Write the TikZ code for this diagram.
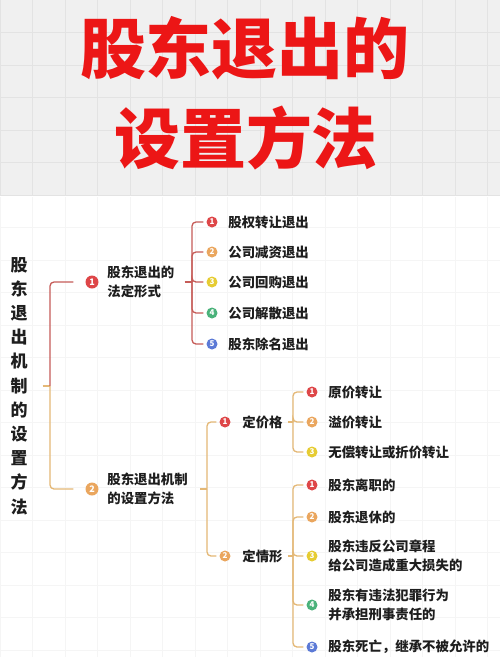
\documentclass[tikz,border=0pt]{standalone}
\usepackage{fontspec}
\setmainfont{Noto Sans CJK SC}
\usetikzlibrary{positioning}
\definecolor{titlered}{RGB}{236,22,22}
\definecolor{hdrgray}{RGB}{240,240,240}
\definecolor{gridgray}{RGB}{227,227,227}
\definecolor{gridlight}{RGB}{245,245,245}
\definecolor{inkdark}{RGB}{30,30,30}
\definecolor{brred}{RGB}{198,92,88}
\definecolor{brtan}{RGB}{228,184,118}
\definecolor{numred}{RGB}{222,70,72}
\definecolor{numorange}{RGB}{234,166,94}
\definecolor{numyellow}{RGB}{230,204,50}
\definecolor{numgreen}{RGB}{74,178,122}
\definecolor{numblue}{RGB}{92,122,214}

\begin{document}
\begin{tikzpicture}[x=1pt, y=-1pt,
  num/.style={circle, fill=#1, inner sep=0pt, minimum size=11pt, text=white,
    font=\bfseries\fontsize{8}{8}\selectfont},
  bignum/.style={num=#1, minimum size=13pt, font=\bfseries\fontsize{9}{9}\selectfont},
  item/.style={inner sep=0pt, align=left, text=inkdark,
    font=\bfseries\fontsize{13.4}{19}\selectfont},
  brk/.style={line width=1.3pt, rounded corners=4pt}]
  \useasboundingbox (0,0) rectangle (500,657);
  % background and grid
  \fill[white] (0,0) rectangle (500,657);
  \fill[hdrgray] (0,0) rectangle (500,195);
  \foreach \gx in {0,32.5,...,500} {
    \draw[gridgray, line width=0.5pt] (\gx,0) -- (\gx,195);
    \draw[gridlight, line width=0.5pt] (\gx,197) -- (\gx,657);
  }
  \foreach \gy in {32.5,65,...,195}
    \draw[gridgray, line width=0.5pt] (0,\gy) -- (500,\gy);
  \foreach \gy in {227.5,260,...,657}
    \draw[gridlight, line width=0.5pt] (0,\gy) -- (500,\gy);

  % title
  \node[text=titlered, font=\bfseries\fontsize{66}{66}\selectfont] (title1) at (245,48) {股东退出的};
  \node[text=titlered, font=\bfseries\fontsize{66}{66}\selectfont] (title2) at (246,138) {设置方法};

  % root
  \node[align=center, text=inkdark, inner sep=0pt,
    font=\bfseries\fontsize{17}{24.2}\selectfont] (root) at (19,386)
    {股\\东\\退\\出\\机\\制\\的\\设\\置\\方\\法};
  \coordinate (m0) at (50,386);

  % level 1
  \node[bignum=numred] (n1) at (92,282) {1};
  \node[item, right=8.5pt of n1] (t1) {股东退出的\\法定形式};
  \node[bignum=numorange] (n2) at (92,489) {2};
  \node[item, right=8.5pt of n2] (t2) {股东退出机制\\的设置方法};

  % legal forms
  \coordinate (j1) at (192,282);
  \node[num=numred] (a1) at (212,222) {1};
  \node[num=numorange] (a2) at (212,252) {2};
  \node[num=numyellow] (a3) at (212,282) {3};
  \node[num=numgreen] (a4) at (212,313) {4};
  \node[num=numblue] (a5) at (212,344) {5};
  \node[item, right=10.5pt of a1] (ta1) {股权转让退出};
  \node[item, right=10.5pt of a2] (ta2) {公司减资退出};
  \node[item, right=10.5pt of a3] (ta3) {公司回购退出};
  \node[item, right=10.5pt of a4] (ta4) {公司解散退出};
  \node[item, right=10.5pt of a5] (ta5) {股东除名退出};

  % setting methods
  \coordinate (j2) at (207,489);
  \node[num=numred] (b1) at (225,422) {1};
  \node[num=numorange] (b2) at (225,556) {2};
  \node[item, right=11.5pt of b1] (tb1) {定价格};
  \node[item, right=11.5pt of b2] (tb2) {定情形};

  % price
  \coordinate (j3) at (293,422);
  \node[num=numred] (c1) at (312,392) {1};
  \node[num=numorange] (c2) at (312,422) {2};
  \node[num=numyellow] (c3) at (312,452) {3};
  \node[item, right=10.5pt of c1] (tc1) {原价转让};
  \node[item, right=10.5pt of c2] (tc2) {溢价转让};
  \node[item, right=10.5pt of c3] (tc3) {无偿转让或折价转让};

  % situations
  \coordinate (j4) at (293,556);
  \node[num=numred] (d1) at (312,485) {1};
  \node[num=numorange] (d2) at (312,517) {2};
  \node[num=numyellow] (d3) at (312,556) {3};
  \node[num=numgreen] (d4) at (312,605) {4};
  \node[num=numblue] (d5) at (312,647) {5};
  \node[item, right=10.5pt of d1] (td1) {股东离职的};
  \node[item, right=10.5pt of d2] (td2) {股东退休的};
  \node[item, right=10.5pt of d3] (td3) {股东违反公司章程\\给公司造成重大损失的};
  \node[item, right=10.5pt of d4] (td4) {股东有违法犯罪行为\\并承担刑事责任的};
  \node[item, right=10.5pt of d5] (td5) {股东死亡，继承不被允许的};

  % brackets
  \draw[brk, brtan, shorten <=15pt] (root.east |- m0) -- (m0);
  \draw[brk, brred, shorten >=12pt] (m0) |- (n1);
  \draw[brk, brtan, shorten >=12pt] (m0) |- (n2);
  \draw[brk, brred, shorten <=10pt] (t1) -- (j1);
  \foreach \k in {1,...,5}
    \draw[brk, brred, shorten >=3pt] (j1) |- (a\k);
  \draw[brk, brtan, shorten <=12pt] (t2) -- (j2);
  \foreach \k in {1,2}
    \draw[brk, brtan, shorten >=3pt] (j2) |- (b\k);
  \draw[brk, brtan, shorten <=5pt] (tb1) -- (j3);
  \foreach \k in {1,2,3}
    \draw[brk, brtan, shorten >=3pt] (j3) |- (c\k);
  \draw[brk, brtan, shorten <=5pt] (tb2) -- (j4);
  \foreach \k in {1,...,5}
    \draw[brk, brtan, shorten >=3pt] (j4) |- (d\k);
\end{tikzpicture}
\end{document}
